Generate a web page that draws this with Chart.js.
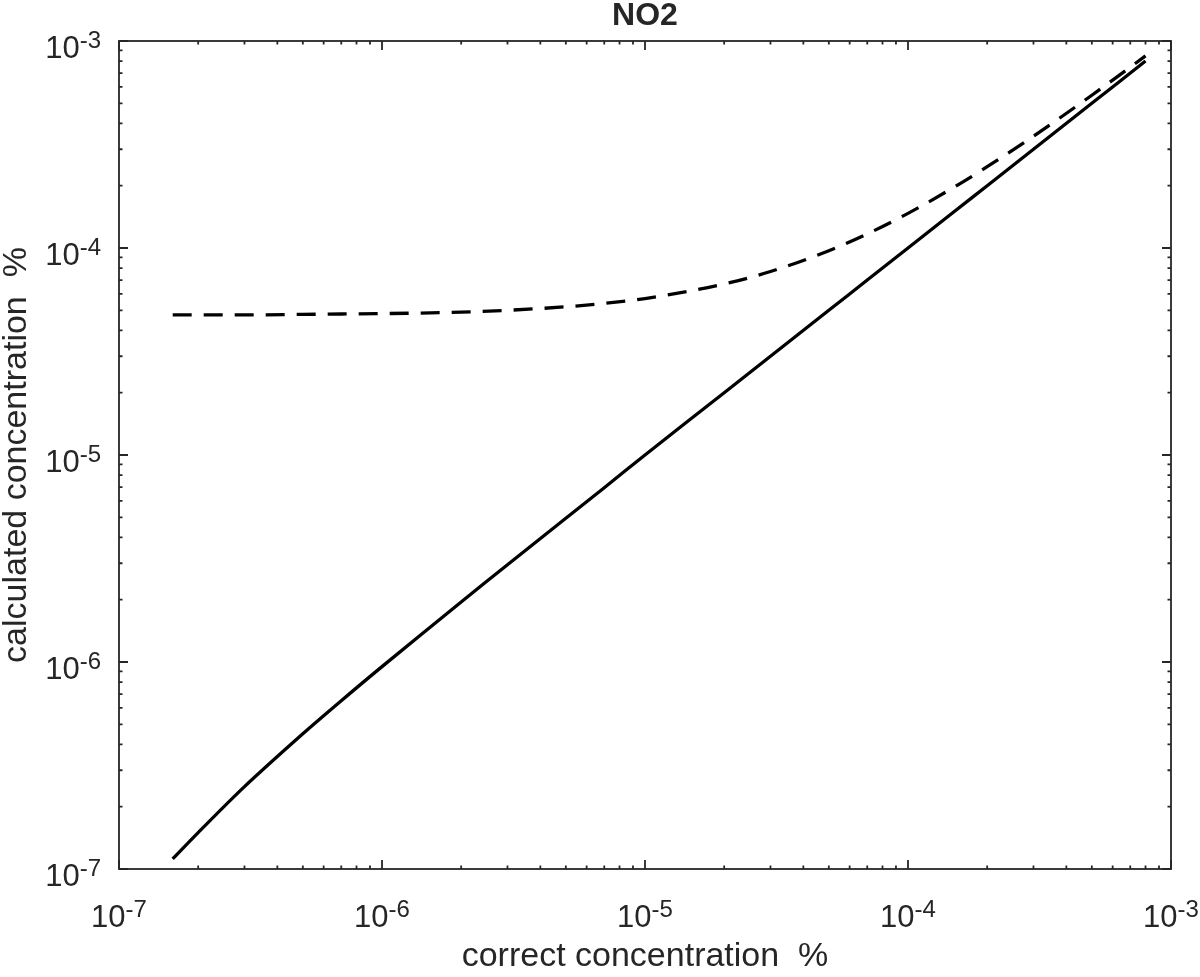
<!DOCTYPE html>
<html>
<head>
<meta charset="utf-8">
<title>NO2</title>
<script src="https://cdn.jsdelivr.net/npm/chart.js@4.4.1/dist/chart.umd.min.js"></script>
<style>
  html, body { margin: 0; padding: 0; background: #fff; }
  #wrap { width: 1200px; height: 977px; }
</style>
</head>
<body>
<div id="wrap"><canvas id="no2Chart" width="1200" height="977"></canvas></div>
<script>
// Values (both axes in %)
const correctConc = [1.6e-7, 2e-7, 3e-7, 5e-7, 7e-7, 1e-6, 2e-6, 3e-6, 5e-6, 7e-6,
  1e-5, 2e-5, 3e-5, 5e-5, 7e-5, 1e-4, 1.5e-4, 2e-4, 3e-4, 5e-4, 8e-4];
const calcSolid = [1.12e-7, 1.5e-7, 2.5e-7, 4.5e-7, 6.5e-7, 9.5e-7, 1.95e-6, 2.95e-6, 4.95e-6, 6.95e-6,
  1.0e-5, 2.0e-5, 3.0e-5, 5.0e-5, 7.0e-5, 1.0e-4, 1.5e-4, 2.0e-4, 3.0e-4, 5.0e-4, 8.0e-4];
const calcDashed = [4.75e-5, 4.75e-5, 4.75e-5, 4.78e-5, 4.8e-5, 4.82e-5, 4.9e-5, 5.0e-5, 5.2e-5, 5.4e-5,
  5.7e-5, 6.7e-5, 7.7e-5, 9.7e-5, 1.17e-4, 1.47e-4, 1.97e-4, 2.47e-4, 3.47e-4, 5.47e-4, 8.47e-4];

// Tick labels: decades 10^-7 .. 10^-3, minor ticks at 2..9 of each decade
const decadeExps = [-7, -6, -5, -4, -3];
const minorSteps = [2, 3, 4, 5, 6, 7, 8, 9];

const axisColor = "#262626";
const fontFamily = "'Liberation Sans', Arial, Helvetica, sans-serif";

function tickList() {
  const ticks = [];
  decadeExps.forEach((e, i) => {
    ticks.push({ value: Math.pow(10, e), major: true });
    if (i < decadeExps.length - 1) {
      minorSteps.forEach((m) => ticks.push({ value: m * Math.pow(10, e), major: false }));
    }
  });
  return ticks;
}

function powWidth(ctx, exp) {
  ctx.font = "31px " + fontFamily;
  const w1 = ctx.measureText("10").width;
  ctx.font = "24px " + fontFamily;
  const w2 = ctx.measureText(String(exp)).width;
  return [w1, w2];
}

function drawPow(ctx, exp, left, baseline) {
  const [w1] = powWidth(ctx, exp);
  ctx.textAlign = "left";
  ctx.textBaseline = "alphabetic";
  ctx.font = "31px " + fontFamily;
  ctx.fillText("10", left, baseline);
  ctx.font = "24px " + fontFamily;
  ctx.fillText(String(exp), left + w1, baseline - 10);
}

const frameAndLabels = {
  id: "frameAndLabels",
  afterDatasetsDraw(chart) {
    const { ctx, chartArea: a, scales: { x, y } } = chart;
    ctx.save();

    // Box with inward ticks on all four sides
    ctx.strokeStyle = axisColor;
    ctx.lineWidth = 1.8;
    ctx.strokeRect(a.left, a.top, a.right - a.left, a.bottom - a.top);
    ctx.beginPath();
    tickList().forEach((t) => {
      const len = t.major ? 9 : 3.5;
      const px = x.getPixelForValue(t.value);
      const py = y.getPixelForValue(t.value);
      ctx.moveTo(px, a.bottom); ctx.lineTo(px, a.bottom - len);
      ctx.moveTo(px, a.top); ctx.lineTo(px, a.top + len);
      ctx.moveTo(a.left, py); ctx.lineTo(a.left + len, py);
      ctx.moveTo(a.right, py); ctx.lineTo(a.right - len, py);
    });
    ctx.stroke();

    // Tick labels 10^n
    ctx.fillStyle = axisColor;
    decadeExps.forEach((e) => {
      const v = Math.pow(10, e);
      const [w1, w2] = powWidth(ctx, e);
      const px = x.getPixelForValue(v);
      drawPow(ctx, e, px - (w1 + w2) / 2, a.bottom + 58);
      const py = y.getPixelForValue(v);
      drawPow(ctx, e, a.left - 18 - (w1 + w2), py + 17);
    });

    const cx = (a.left + a.right) / 2;
    const cy = (a.top + a.bottom) / 2;

    // Title
    ctx.textAlign = "center";
    ctx.textBaseline = "alphabetic";
    ctx.font = "bold 32px " + fontFamily;
    ctx.fillText("NO2", cx, 25);

    // Axis titles
    ctx.font = "34px " + fontFamily;
    ctx.fillText("correct concentration  %", cx, 966);
    ctx.save();
    ctx.translate(26, cy);
    ctx.rotate(-Math.PI / 2);
    ctx.fillText("calculated concentration  %", 0, 0);
    ctx.restore();

    ctx.restore();
  },
};

function pairUp(xs, ys) {
  return xs.map((v, i) => ({ x: v, y: ys[i] }));
}

document.addEventListener("DOMContentLoaded", function () {
  const ctx = document.getElementById("no2Chart").getContext("2d");

  new Chart(ctx, {
    type: "line",
    data: {
      datasets: [
        {
          label: "calculated",
          data: pairUp(correctConc, calcSolid),
          borderColor: "#000000",
          borderWidth: 3.3,
          tension: 0.3,
          pointRadius: 0,
          fill: false,
        },
        {
          label: "calculated (offset)",
          data: pairUp(correctConc, calcDashed),
          borderColor: "#000000",
          borderWidth: 3.3,
          borderDash: [19, 12],
          cubicInterpolationMode: "monotone",
          pointRadius: 0,
          fill: false,
        },
      ],
    },
    options: {
      responsive: false,
      animation: false,
      layout: { padding: { left: 119, right: 29, top: 41, bottom: 108 } },
      plugins: {
        legend: { display: false },
        tooltip: { enabled: false },
        title: { display: false },
      },
      scales: {
        x: { type: "logarithmic", min: 1e-7, max: 1e-3, display: false },
        y: { type: "logarithmic", min: 1e-7, max: 1e-3, display: false },
      },
    },
    plugins: [frameAndLabels],
  });
});
</script>
</body>
</html>
